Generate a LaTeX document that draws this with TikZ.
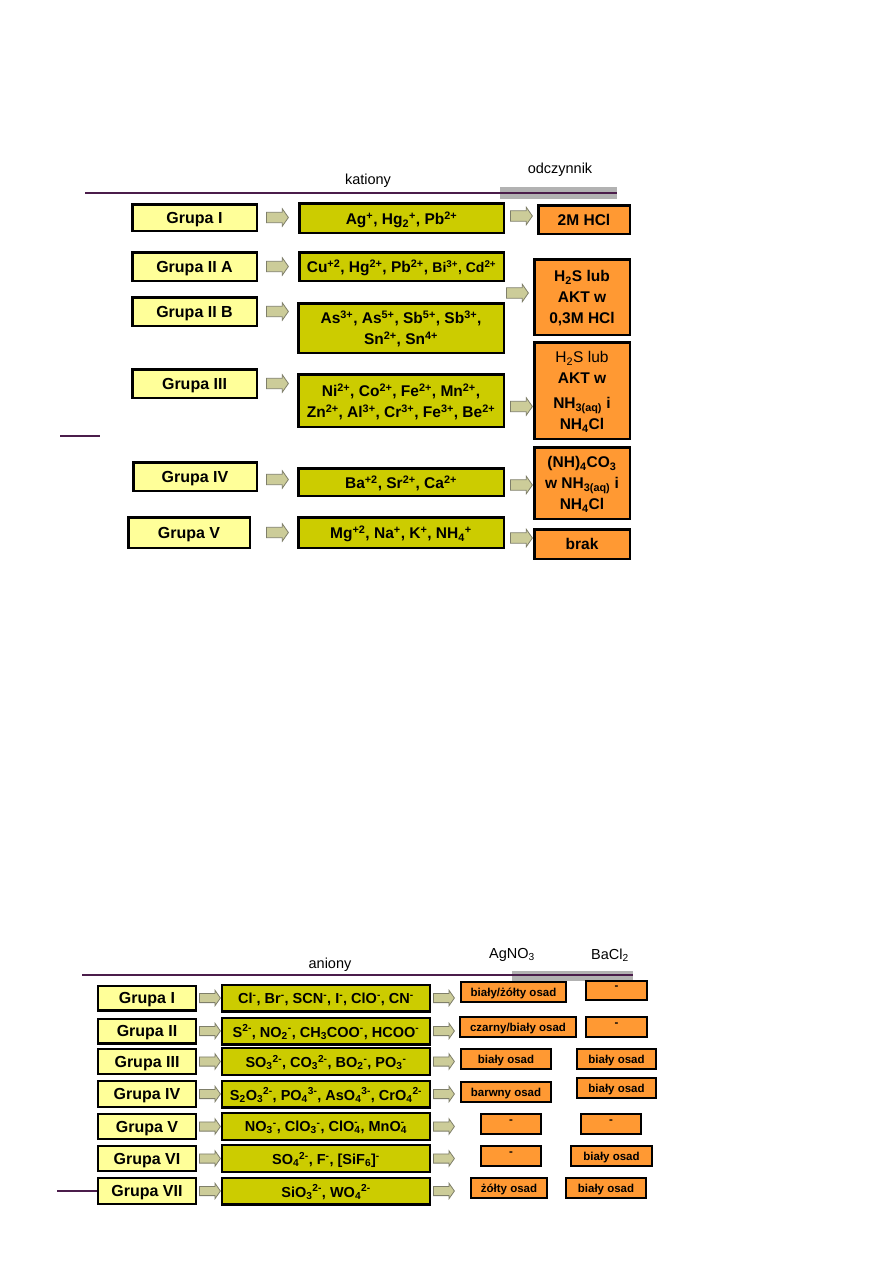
\documentclass[tikz,border=0pt]{standalone}
\usepackage{fontspec}
\setmainfont{Liberation Sans}
\usetikzlibrary{shapes.arrows}
\definecolor{grupafill}{HTML}{FFFF99}
\definecolor{jonyfill}{HTML}{CCCC00}
\definecolor{odczfill}{HTML}{FF9933}
\definecolor{strzfill}{HTML}{CCCC99}
\definecolor{strzline}{HTML}{7F7F6A}
\definecolor{linia}{HTML}{4B1D4B}
\definecolor{szary}{HTML}{B2B2B2}
\newcommand{\supx}[1]{\textsuperscript{#1}}
\newcommand{\subx}[1]{\textsubscript{#1}}
\newcommand{\subsupx}[2]{\rlap{\raisebox{1.5pt}{\textsuperscript{#2}}}\textsubscript{#1}}
\tikzset{
	ramka/.style={draw, line width=2.5pt, inner sep=1pt, align=center, text depth=0pt},
	grupa/.style={ramka, fill=grupafill, font=\fontsize{16}{18}\selectfont\bfseries},
	jony/.style={ramka, fill=jonyfill, font=\fontsize{15.5}{21}\selectfont\bfseries},
	odcz/.style={ramka, fill=odczfill, font=\fontsize{15.5}{21}\selectfont\bfseries},
	jonyb/.style={ramka, line width=2.2pt, fill=jonyfill, font=\fontsize{14.5}{17}\selectfont\bfseries},
	osad/.style={ramka, line width=2pt, fill=odczfill, font=\fontsize{11.5}{13}\selectfont\bfseries},
	strz/.style={single arrow, draw=strzline, fill=strzfill, line width=0.8pt, inner xsep=0pt,
		inner ysep=4.8pt, text height=0pt, text depth=0pt, minimum height=22pt,
		single arrow head extend=3.5pt, single arrow tip angle=110, anchor=west},
	strzb/.style={strz, inner ysep=4.2pt, minimum height=21pt, single arrow head extend=3pt},
	etykieta/.style={font=\fontsize{14.5}{17}\selectfont},
	kreska/.style={draw=linia, line width=2pt}
}

\begin{document}
\begin{tikzpicture}[x=1pt, y=-1pt]
	\useasboundingbox (0,0) rectangle (893,1263);
	\fill[white] (0,0) rectangle (893,1263);

	% kationy
	\fill[szary] (500,187) rectangle (617,199);
	\draw[kreska] (85,193) -- (617,193);
	\draw[kreska] (60,436) -- (100,436);
	\node[etykieta] (tk) at (368,181) {kationy};
	\node[etykieta] (to) at (560,170) {odczynnik};

	\node[grupa, minimum width=124.5pt, minimum height=26.5pt] (g1) at (194.5,217.5) {Grupa I};
	\node[grupa, minimum width=124.5pt, minimum height=28.5pt] (g2a) at (194.5,266.5) {Grupa II A};
	\node[grupa, minimum width=124.5pt, minimum height=28.5pt] (g2b) at (194.5,311.5) {Grupa II B};
	\node[grupa, minimum width=124.5pt, minimum height=28.5pt] (g3) at (194.5,383.5) {Grupa III};
	\node[grupa, minimum width=123.5pt, minimum height=28.5pt] (g4) at (195,476.5) {Grupa IV};
	\node[grupa, minimum width=121.5pt, minimum height=30.5pt] (g5) at (189,532.5) {Grupa V};

	\node[jony, minimum width=204.5pt, minimum height=29.5pt] (k1) at (401.5,218) {Ag\supx{+}, Hg\subx{2}\supx{+}, Pb\supx{2+}};
	\node[jony, minimum width=204.5pt, minimum height=28.5pt] (k2a) at (401.5,266.5)
		{Cu\supx{+2}, Hg\supx{2+}, Pb\supx{2+}, {\fontsize{14}{16}\selectfont Bi\supx{3+}, Cd\supx{2+}}};
	\node[jony, minimum width=205.5pt, minimum height=49.5pt] (k2b) at (401,328)
		{As\supx{3+}, As\supx{5+}, Sb\supx{5+}, Sb\supx{3+},\\ Sn\supx{2+}, Sn\supx{4+}};
	\node[jony, minimum width=205.5pt, minimum height=52.5pt] (k3) at (401,400.5)
		{Ni\supx{2+}, Co\supx{2+}, Fe\supx{2+}, Mn\supx{2+},\\ Zn\supx{2+}, Al\supx{3+}, Cr\supx{3+}, Fe\supx{3+}, Be\supx{2+}};
	\node[jony, minimum width=205.5pt, minimum height=27.5pt] (k4) at (401,482) {Ba\supx{+2}, Sr\supx{2+}, Ca\supx{2+}};
	\node[jony, minimum width=205.5pt, minimum height=30.5pt] (k5) at (401,532.5) {Mg\supx{+2}, Na\supx{+}, K\supx{+}, NH\subx{4}\supx{+}};

	\node[odcz, minimum width=91.5pt, minimum height=28.5pt] (r1) at (584,219.5) {2M HCl};
	\node[odcz, minimum width=95.5pt, minimum height=75.5pt] (r2) at (582,297) {H\subx{2}S lub\\ AKT w\\ 0,3M HCl};
	\node[odcz, minimum width=95.5pt, minimum height=96.5pt] (r3) at (582,390.5)
		{{\mdseries H\subx{2}S lub}\\ AKT w\\[4pt] NH\subx{3(aq)} i\\ NH\subx{4}Cl};
	\node[odcz, minimum width=95.5pt, minimum height=71.5pt] (r4) at (582,483) {(NH)\subx{4}CO\subx{3}\\ w NH\subx{3(aq)} i\\ NH\subx{4}Cl};
	\node[odcz, minimum width=95.5pt, minimum height=29.5pt] (r5) at (582,544) {brak};

	\node[strz] (sg1) at ([xshift=8pt]g1.east) {};
	\node[strz] (sg2a) at ([xshift=8pt]g2a.east) {};
	\node[strz] (sg2b) at ([xshift=8pt]g2b.east) {};
	\node[strz] (sg3) at ([xshift=8pt]g3.east) {};
	\node[strz] (sg4) at ([xshift=8pt,yshift=-3pt]g4.east) {};
	\node[strz] (sg5) at ([xshift=15pt]g5.east) {};
	\node[strz] (sk1) at ([xshift=5pt,yshift=2pt]k1.east) {};
	\node[strz] (sk2) at ([xshift=1pt,yshift=-11pt]k2a.south east) {};
	\node[strz] (sk3) at ([xshift=5pt,yshift=-6pt]k3.east) {};
	\node[strz] (sk4) at ([xshift=5pt,yshift=-3pt]k4.east) {};
	\node[strz] (sk5) at ([xshift=5pt,yshift=-5.5pt]k5.east) {};

	% aniony
	\fill[szary] (512,971) rectangle (633,981);
	\draw[kreska] (82,975) -- (633,975);
	\draw[kreska] (57,1191) -- (100,1191);
	\node[etykieta] (ta) at (330,965) {aniony};
	\node[etykieta] (tag) at (512,955) {AgNO\subx{3}};
	\node[etykieta] (tba) at (610,955) {BaCl\subx{2}};

	\node[grupa, line width=2.2pt, minimum width=97.8pt, minimum height=24.8pt] (a1) at (147,998) {Grupa I};
	\node[grupa, line width=2.2pt, minimum width=97.8pt, minimum height=24.8pt] (a2) at (147,1031) {Grupa II};
	\node[grupa, line width=2.2pt, minimum width=97.8pt, minimum height=24.8pt] (a3) at (147,1061.5) {Grupa III};
	\node[grupa, line width=2.2pt, minimum width=97.8pt, minimum height=25.8pt] (a4) at (147,1094) {Grupa IV};
	\node[grupa, line width=2.2pt, minimum width=97.8pt, minimum height=24.8pt] (a5) at (147,1126.5) {Grupa V};
	\node[grupa, line width=2.2pt, minimum width=97.8pt, minimum height=24.8pt] (a6) at (147,1158.5) {Grupa VI};
	\node[grupa, line width=2.2pt, minimum width=97.8pt, minimum height=25.8pt] (a7) at (147,1191) {Grupa VII};

	\node[jonyb, minimum width=207.8pt, minimum height=26.8pt] (j1) at (326,998) {Cl\supx{-}, Br\supx{-}, SCN\supx{-}, I\supx{-}, ClO\supx{-}, CN\supx{-}};
	\node[jonyb, minimum width=207.8pt, minimum height=26.8pt] (j2) at (326,1031) {S\supx{2-}, NO\subx{2}\supx{-}, CH\subx{3}COO\supx{-}, HCOO\supx{-}};
	\node[jonyb, minimum width=207.8pt, minimum height=26.8pt] (j3) at (326,1061.5) {SO\subx{3}\supx{2-}, CO\subx{3}\supx{2-}, BO\subx{2}\supx{-}, PO\subx{3}\supx{-}};
	\node[jonyb, minimum width=207.8pt, minimum height=26.8pt] (j4) at (326,1094) {S\subx{2}O\subx{3}\supx{2-}, PO\subx{4}\supx{3-}, AsO\subx{4}\supx{3-}, CrO\subx{4}\supx{2-}};
	\node[jonyb, minimum width=207.8pt, minimum height=26.8pt] (j5) at (326,1126.5) {NO\subx{3}\supx{-}, ClO\subx{3}\supx{-}, ClO\subsupx{4}{-}, MnO\subsupx{4}{-}};
	\node[jonyb, minimum width=207.8pt, minimum height=26.8pt] (j6) at (326,1158.5) {SO\subx{4}\supx{2-}, F\supx{-}, [SiF\subx{6}]\supx{-}};
	\node[jonyb, minimum width=207.8pt, minimum height=26.8pt] (j7) at (326,1191) {SiO\subx{3}\supx{2-}, WO\subx{4}\supx{2-}};

	\node[osad, minimum width=105pt, minimum height=20pt] (o1) at (513.5,992) {biały/żółty osad};
	\node[osad, minimum width=116pt, minimum height=20pt] (o2) at (518,1027) {czarny/biały osad};
	\node[osad, minimum width=90pt, minimum height=20pt] (o3) at (506,1059) {biały osad};
	\node[osad, minimum width=90pt, minimum height=20pt] (o4) at (506,1092) {barwny osad};
	\node[osad, minimum width=60pt, minimum height=20pt] (o5) at (511,1124) {\raisebox{5pt}{-}};
	\node[osad, minimum width=60pt, minimum height=20pt] (o6) at (511,1156) {\raisebox{5pt}{-}};
	\node[osad, minimum width=76pt, minimum height=20pt] (o7) at (509,1188) {żółty osad};

	\node[osad, minimum width=61pt, minimum height=19pt] (b1) at (616.5,990.5) {\raisebox{5pt}{-}};
	\node[osad, minimum width=61pt, minimum height=20pt] (b2) at (616.5,1027) {\raisebox{5pt}{-}};
	\node[osad, minimum width=79pt, minimum height=20pt] (b3) at (616.5,1059) {biały osad};
	\node[osad, minimum width=79pt, minimum height=20pt] (b4) at (616.5,1088) {biały osad};
	\node[osad, minimum width=60pt, minimum height=20pt] (b5) at (611,1124) {\raisebox{5pt}{-}};
	\node[osad, minimum width=81pt, minimum height=20pt] (b6) at (611.5,1156) {biały osad};
	\node[osad, minimum width=80pt, minimum height=20pt] (b7) at (606,1188) {biały osad};

	\node[strzb] (sa1) at ([xshift=2pt]a1.east) {};
	\node[strzb] (sa2) at ([xshift=2pt]a2.east) {};
	\node[strzb] (sa3) at ([xshift=2pt]a3.east) {};
	\node[strzb] (sa4) at ([xshift=2pt]a4.east) {};
	\node[strzb] (sa5) at ([xshift=2pt]a5.east) {};
	\node[strzb] (sa6) at ([xshift=2pt]a6.east) {};
	\node[strzb] (sa7) at ([xshift=2pt]a7.east) {};
	\node[strzb] (sj1) at ([xshift=2pt]j1.east) {};
	\node[strzb] (sj2) at ([xshift=2pt]j2.east) {};
	\node[strzb] (sj3) at ([xshift=2pt]j3.east) {};
	\node[strzb] (sj4) at ([xshift=2pt]j4.east) {};
	\node[strzb] (sj5) at ([xshift=2pt]j5.east) {};
	\node[strzb] (sj6) at ([xshift=2pt]j6.east) {};
	\node[strzb] (sj7) at ([xshift=2pt]j7.east) {};
\end{tikzpicture}
\end{document}
